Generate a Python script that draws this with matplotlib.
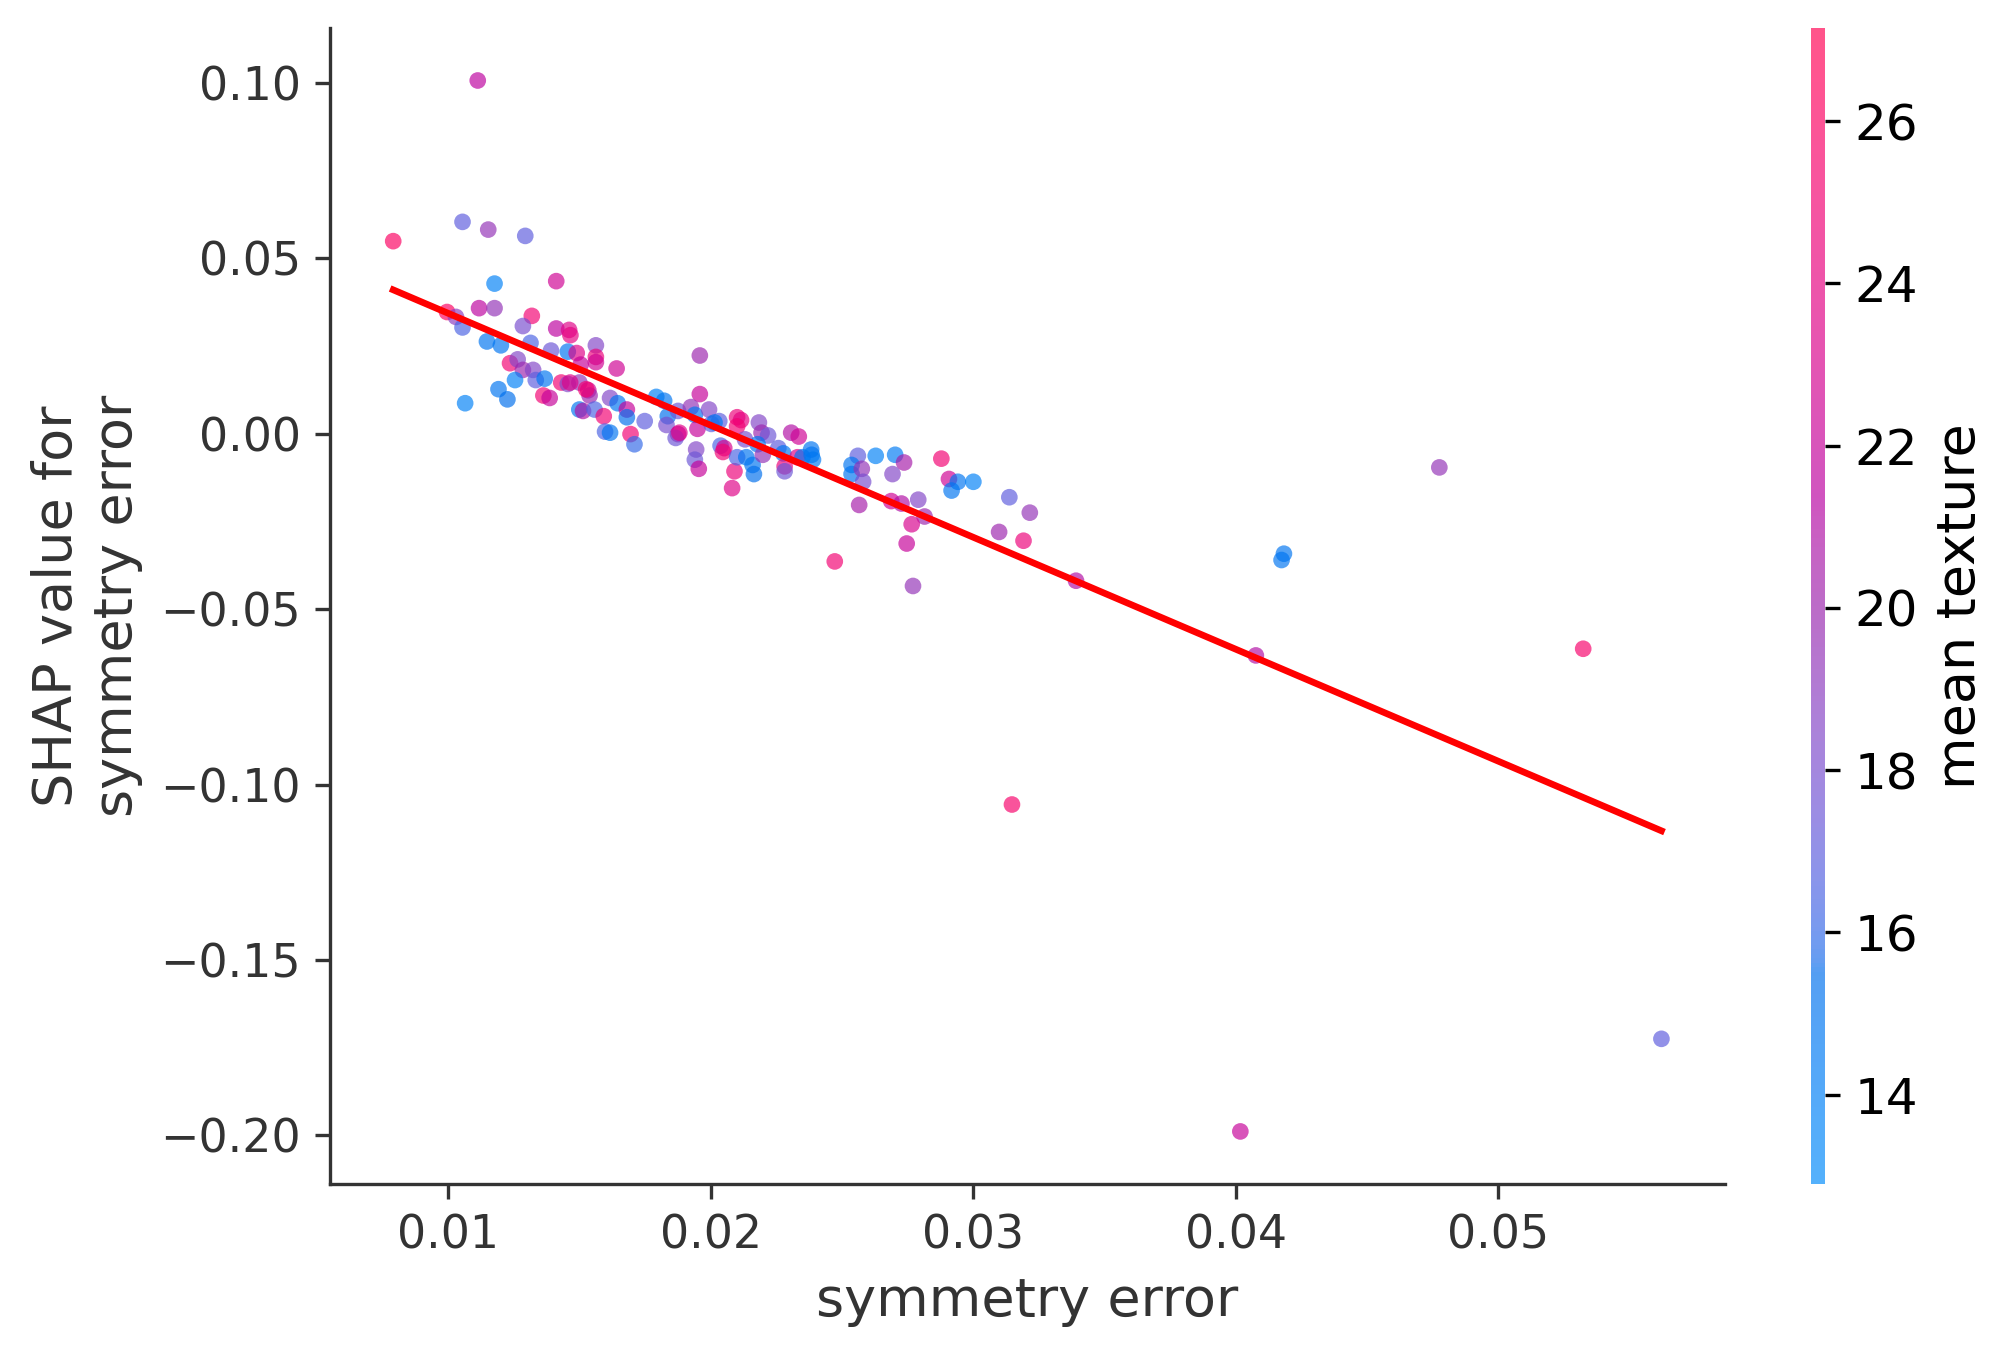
import numpy as np
import matplotlib
matplotlib.use('Agg')
import matplotlib.pyplot as plt
from matplotlib.colors import LinearSegmentedColormap

# values
symmetry_error = [
  0.01112, 0.00790, 0.01054, 0.01152, 0.01293, 0.01176, 0.01411, 0.00995, 0.01029, 0.01054,
  0.01117, 0.01176, 0.01318, 0.01284, 0.01147, 0.01200, 0.01313, 0.01411, 0.01460, 0.01465,
  0.01562, 0.01391, 0.01455, 0.01489, 0.01562, 0.01562, 0.01235, 0.01264, 0.01284, 0.01323,
  0.01254, 0.01333, 0.01367, 0.01504, 0.01499, 0.01641, 0.01958, 0.01958, 0.01430, 0.01455,
  0.01533, 0.01538, 0.01191, 0.01225, 0.01064, 0.01362, 0.01386, 0.01499, 0.01513, 0.01557,
  0.01592, 0.01616, 0.01645, 0.01680, 0.01680, 0.01597, 0.01616, 0.01694, 0.01709, 0.01748,
  0.01792, 0.01822, 0.01836, 0.01831, 0.01875, 0.01875, 0.01866, 0.01924, 0.01939, 0.01949,
  0.01993, 0.02002, 0.02032, 0.02100, 0.02115, 0.02100, 0.02183, 0.02193, 0.02218, 0.02306,
  0.02335, 0.01944, 0.01939, 0.01954, 0.02037, 0.02051, 0.02046, 0.02090, 0.02081, 0.02100,
  0.02130, 0.02135, 0.02159, 0.02164, 0.02178, 0.02198, 0.02257, 0.02276, 0.02281, 0.02281,
  0.02330, 0.02349, 0.02384, 0.02389, 0.02560, 0.02536, 0.02536, 0.02575, 0.02580, 0.02628,
  0.02702, 0.02736, 0.02692, 0.02565, 0.02687, 0.02726, 0.02790, 0.02814, 0.02765, 0.02746,
  0.02878, 0.02907, 0.02941, 0.02917, 0.03000, 0.03137, 0.03215, 0.03098, 0.03191, 0.02472,
  0.02770, 0.03391, 0.04183, 0.04174, 0.04775, 0.04076, 0.05323, 0.03147, 0.04017, 0.05621,
  0.01464, 0.01525, 0.01880, 0.02014, 0.02382,
]
shap_values = [
  0.1007, 0.0549, 0.0604, 0.0582, 0.0564, 0.0428, 0.0435, 0.0347, 0.0333, 0.0303,
  0.0358, 0.0358, 0.0336, 0.0307, 0.0263, 0.0252, 0.0259, 0.0300, 0.0296, 0.0281,
  0.0252, 0.0237, 0.0234, 0.0230, 0.0219, 0.0204, 0.0201, 0.0212, 0.0182, 0.0182,
  0.0153, 0.0153, 0.0157, 0.0197, 0.0146, 0.0186, 0.0223, 0.0113, 0.0146, 0.0142,
  0.0124, 0.0109, 0.0127, 0.0098, 0.0087, 0.0109, 0.0102, 0.0069, 0.0065, 0.0069,
  0.0050, 0.0102, 0.0087, 0.0069, 0.0047, 0.0006, 0.0003, -0.0001, -0.0030, 0.0036,
  0.0105, 0.0094, 0.0050, 0.0025, 0.0065, -0.0001, -0.0012, 0.0076, 0.0054, 0.0014,
  0.0069, 0.0028, 0.0036, 0.0047, 0.0039, 0.0021, 0.0032, 0.0003, -0.0005, 0.0003,
  -0.0008, -0.0045, -0.0074, -0.0100, -0.0034, -0.0041, -0.0052, -0.0107, -0.0155, -0.0067,
  -0.0016, -0.0067, -0.0089, -0.0115, -0.0030, -0.0060, -0.0041, -0.0056, -0.0093, -0.0107,
  -0.0067, -0.0067, -0.0060, -0.0074, -0.0063, -0.0089, -0.0115, -0.0100, -0.0137, -0.0063,
  -0.0060, -0.0082, -0.0115, -0.0203, -0.0192, -0.0199, -0.0188, -0.0236, -0.0258, -0.0313,
  -0.0071, -0.0129, -0.0137, -0.0162, -0.0137, -0.0181, -0.0225, -0.0280, -0.0305, -0.0364,
  -0.0434, -0.0419, -0.0342, -0.0360, -0.0096, -0.0632, -0.0613, -0.1057, -0.1989, -0.1725,
  0.0146, 0.0127, 0.0003, 0.0032, -0.0045,
]
mean_texture = [
  21.5, 26.0, 17.0, 19.5, 17.0, 14.0, 22.5, 26.0, 19.0, 16.5,
  21.5, 19.5, 25.0, 18.0, 15.0, 15.0, 16.5, 21.5, 23.5, 24.0,
  18.5, 17.5, 15.0, 23.5, 24.5, 22.5, 25.0, 18.5, 20.0, 18.5,
  14.0, 17.0, 15.0, 22.0, 19.5, 22.5, 20.0, 22.0, 25.0, 18.5,
  22.5, 20.0, 15.0, 15.5, 14.0, 25.0, 22.0, 15.0, 21.0, 16.5,
  25.0, 18.5, 15.0, 22.0, 15.5, 16.5, 15.0, 25.0, 16.0, 17.0,
  14.0, 15.0, 15.5, 18.0, 17.5, 22.0, 17.5, 19.5, 15.0, 22.0,
  18.5, 17.0, 17.0, 24.5, 24.0, 25.0, 18.5, 20.0, 17.5, 21.0,
  22.5, 18.5, 17.5, 22.0, 16.5, 23.0, 25.0, 24.5, 23.5, 16.5,
  18.0, 15.0, 15.0, 15.5, 15.0, 19.5, 17.0, 15.0, 24.5, 17.5,
  23.5, 15.0, 15.0, 14.5, 17.0, 15.0, 15.0, 19.5, 18.0, 14.0,
  14.5, 20.5, 18.5, 20.5, 22.5, 21.0, 18.5, 20.0, 23.0, 22.0,
  25.0, 22.5, 15.0, 15.0, 14.0, 17.0, 19.5, 20.0, 24.5, 25.0,
  19.5, 21.0, 15.0, 15.0, 19.5, 21.0, 25.5, 25.5, 22.0, 17.0,
  23.5, 25.0, 23.5, 15.0, 15.0,
]
color_range = (12.9, 27.15)


def lch2rgb(l, c, h):
  # CIE LCh -> sRGB (D65)
  a, b = c * np.cos(h), c * np.sin(h)
  fy = (l + 16) / 116
  fx, fz = fy + a / 500, fy - b / 200
  finv = lambda t: np.where(t > 6 / 29, t ** 3, 3 * (6 / 29) ** 2 * (t - 4 / 29))
  xyz = np.array([0.95047 * finv(fx), finv(fy), 1.08883 * finv(fz)])
  m = np.array([[3.2406, -1.5372, -0.4986],
                [-0.9689, 1.8758, 0.0415],
                [0.0557, -0.2040, 1.0570]])
  lin = m @ xyz
  rgb = np.where(lin > 0.0031308, 1.055 * np.abs(lin) ** (1 / 2.4) - 0.055, 12.92 * lin)
  return np.clip(rgb, 0, 1)


# shap-like red/blue scale
n = 100
l_vals = np.concatenate([np.linspace(54, 40, n // 2), np.linspace(40, 54, n // 2)])
c_vals = np.linspace(70, 90, n)
h_vals = np.linspace(4.6588, 0.35470565 + 2 * np.pi, n)
red_blue = LinearSegmentedColormap.from_list(
  'red_blue', [lch2rgb(l, c, h) for l, c, h in zip(l_vals, c_vals, h_vals)])

x = np.array(symmetry_error)
y = np.array(shap_values)

fig = plt.figure(figsize=(2011 / 300, 1357 / 300), dpi=300)
ax = fig.add_axes([0.164, 0.1275, 0.6937, 0.8519])
cax = fig.add_axes([0.9005, 0.1275, 0.0072, 0.8519])

sc = ax.scatter(x, y, c=mean_texture, s=16, linewidth=0, cmap=red_blue, alpha=0.67,
                vmin=color_range[0], vmax=color_range[1], zorder=2)

# linear fit drawn across the data range
slope, intercept = np.polyfit(x, y, 1)
xs = np.array([x.min(), x.max()])
ax.plot(xs, slope * xs + intercept, color='red', linewidth=1.6, zorder=3)

ax.set_xlabel('symmetry error', fontsize=13, color='#333333')
ax.set_ylabel('SHAP value for\nsymmetry error', fontsize=13, color='#333333')
ax.set_xticks([0.01, 0.02, 0.03, 0.04, 0.05])
ax.set_yticks([0.10, 0.05, 0.0, -0.05, -0.10, -0.15, -0.20])
ax.tick_params(labelsize=11, labelcolor='#333333', color='#333333')
ax.spines['top'].set_visible(False)
ax.spines['right'].set_visible(False)
ax.spines['left'].set_color('#333333')
ax.spines['bottom'].set_color('#333333')

cb = fig.colorbar(sc, cax=cax)
cb.outline.set_visible(False)
cb.set_ticks([14, 16, 18, 20, 22, 24, 26])
cb.ax.tick_params(labelsize=12)
cb.set_label('mean texture', fontsize=13)

fig.savefig('out.png', dpi=300)
